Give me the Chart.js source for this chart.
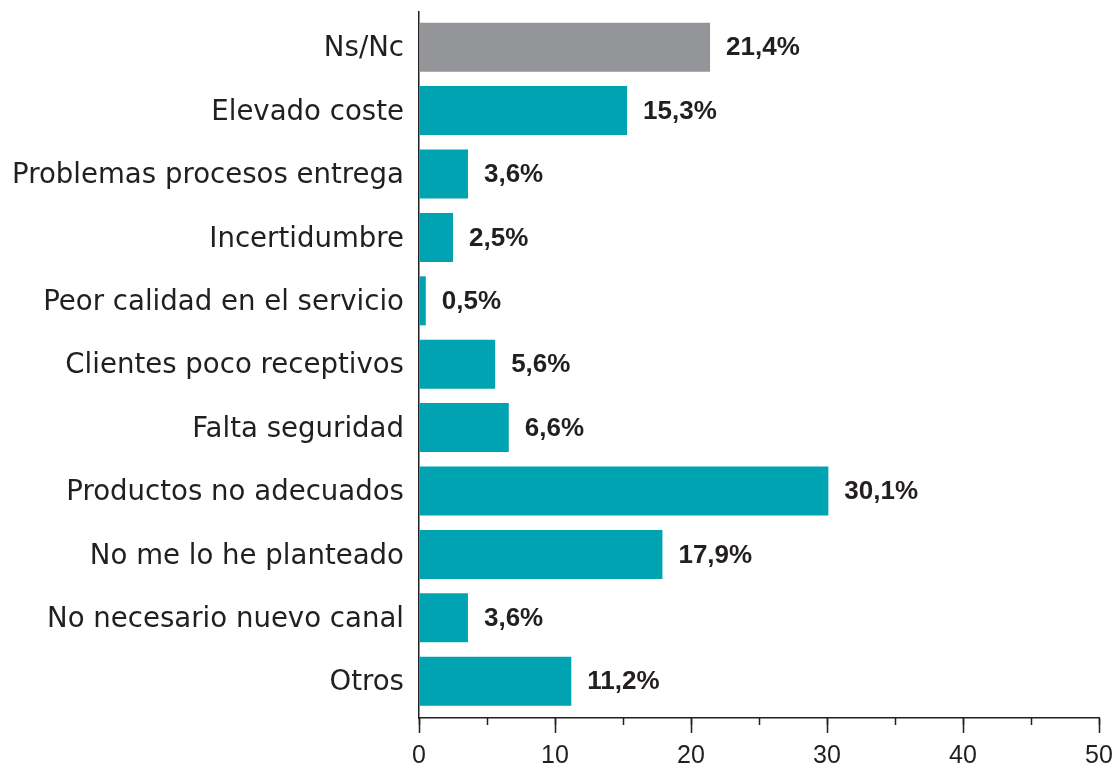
<!DOCTYPE html>
<html>
<head>
<meta charset="utf-8">
<script src="https://cdn.jsdelivr.net/npm/chart.js@4"></script>
<style>
  html, body { margin: 0; padding: 0; background: #ffffff; }
  #wrap { width: 1117px; height: 767px; }
</style>
</head>
<body>
<div id="wrap"><canvas id="chart" width="1117" height="767"></canvas></div>
<script>
// Reasons given (percent of respondents)
const categories = [
  'Ns/Nc',
  'Elevado coste',
  'Problemas procesos entrega',
  'Incertidumbre',
  'Peor calidad en el servicio',
  'Clientes poco receptivos',
  'Falta seguridad',
  'Productos no adecuados',
  'No me lo he planteado',
  'No necesario nuevo canal',
  'Otros'
];
const percentages = [21.4, 15.3, 3.6, 2.5, 0.5, 5.6, 6.6, 30.1, 17.9, 3.6, 11.2];
const majorTicks = [0, 10, 20, 30, 40, 50];
const minorTicks = [0, 5, 10, 15, 20, 25, 30, 35, 40, 45, 50];

const INK = '#231f20';
const TEAL = '#00a3b1';
const GREY = '#939598';

const barColors = categories.map(c => (c === 'Ns/Nc' ? GREY : TEAL));
const points = categories.map((c, i) => ({ x: percentages[i], y: i }));

const fmt = v => v.toFixed(1).replace('.', ',') + '%';

// Value labels at the end of each bar
const valueLabels = {
  id: 'valueLabels',
  afterDatasetsDraw(chart) {
    const { ctx } = chart;
    const meta = chart.getDatasetMeta(0);
    ctx.save();
    ctx.font = 'bold 26px "Liberation Sans", Arial, sans-serif';
    ctx.fillStyle = INK;
    ctx.textAlign = 'left';
    ctx.textBaseline = 'middle';
    meta.data.forEach((bar, i) => {
      ctx.fillText(fmt(percentages[i]), bar.x + 16, bar.y + 1);
    });
    ctx.restore();
  }
};

new Chart(document.getElementById('chart'), {
  type: 'bar',
  data: {
    datasets: [{
      data: points,
      backgroundColor: barColors,
      borderWidth: 0,
      categoryPercentage: 1,
      barPercentage: 0.773,
      xAxisID: 'x',
      yAxisID: 'y'
    }]
  },
  options: {
    indexAxis: 'y',
    responsive: false,
    animation: false,
    devicePixelRatio: 1,
    layout: { padding: { left: 0, top: 12, right: 18, bottom: 0 } },
    plugins: {
      legend: { display: false },
      tooltip: { enabled: false }
    },
    scales: {
      y: {
        type: 'linear',
        reverse: true,
        offset: false,
        min: -0.555,
        max: 10.58,
        afterBuildTicks: s => { s.ticks = categories.map((c, i) => ({ value: i })); },
        afterFit: s => { s.width = 419; s.paddingTop = 0; s.paddingBottom = 0; },
        grid: { display: false, drawTicks: false, offset: false },
        border: { display: true, color: INK, width: 1.5 },
        ticks: {
          padding: 15,
          labelOffset: 2,
          color: INK,
          font: { family: '"DejaVu Sans", sans-serif', size: 27.6 },
          callback: v => categories[v]
        }
      },
      xMinor: {
        type: 'linear',
        position: 'bottom',
        weight: 0,
        min: 0,
        max: 50,
        afterBuildTicks: s => { s.ticks = minorTicks.map(v => ({ value: v })); },
        afterFit: s => { s.height = 0; s.paddingLeft = 0; s.paddingRight = 0; },
        grid: { drawOnChartArea: false, drawTicks: true, tickLength: 7, tickColor: INK, tickWidth: 1.5 },
        border: { display: false },
        ticks: { display: false }
      },
      x: {
        type: 'linear',
        position: 'bottom',
        weight: 1,
        min: 0,
        max: 50,
        afterBuildTicks: s => { s.ticks = majorTicks.map(v => ({ value: v })); },
        afterFit: s => { s.height = 49; s.paddingLeft = 0; s.paddingRight = 0; },
        grid: { drawOnChartArea: false, drawTicks: true, tickLength: 15, tickColor: INK, tickWidth: 1.5 },
        border: { display: true, color: INK, width: 1.5 },
        ticks: {
          padding: 8,
          color: INK,
          maxRotation: 0,
          font: { family: '"Liberation Sans", Arial, sans-serif', size: 25 }
        }
      }
    }
  },
  plugins: [valueLabels]
});
</script>
</body>
</html>
